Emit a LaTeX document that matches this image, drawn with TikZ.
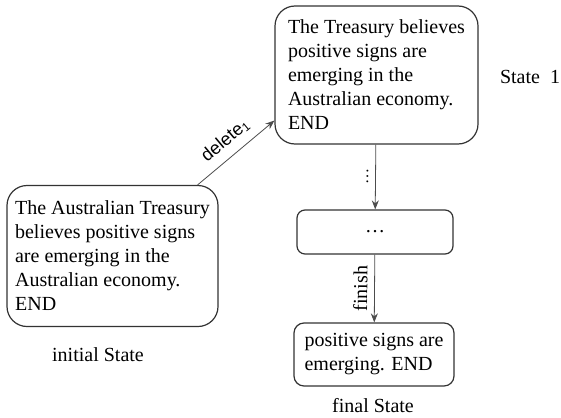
\documentclass[tikz,border=0pt]{standalone}
\usepackage{fontspec}
\setmainfont{Liberation Serif}
\newfontfamily\labelfont{Liberation Sans}
\usetikzlibrary{arrows.meta}
\begin{document}
\begin{tikzpicture}[x=0.5pt,y=-0.5pt,
  statebox/.style={draw=black!80,line width=0.6pt,rounded corners=10pt,align=left,inner sep=2pt},
  trans/.style={draw=black!70,line width=0.4pt,-{Stealth[length=4.5pt,width=3.5pt]}}]
\useasboundingbox (0,0) rectangle (561,417);
\node[statebox,minimum width=105.5pt,minimum height=70.5pt](init) at (112.5,256){The Australian Treasury\\believes positive signs\\are emerging in the\\Australian economy.\\END};
\node[statebox,minimum width=101.5pt,minimum height=69pt](state1) at (376.5,75){The Treasury believes\\positive signs are\\emerging in the\\Australian economy.\\END};
\node[statebox,rounded corners=4pt,minimum width=78pt,minimum height=22pt](mid) at (375,232){\dots};
\node[statebox,rounded corners=5pt,minimum width=80pt,minimum height=31.5pt](final) at (374,354.5){positive signs are\\emerging. END};
\node (initlabel) at (98,355) {initial State};
\node (state1label) at (530,77) {State~ 1};
\node (finallabel) at (373,406) {final State};
\draw[trans] ([xshift=-10.5pt]init.north east) -- ([yshift=12pt]state1.south west)
  node[midway,sloped,above=1pt,font=\labelfont\fontsize{9}{10}\selectfont]{delete\textsubscript{1}};
\draw[trans] (state1) -- (mid) node[midway,sloped,above,font=\fontsize{8}{9}\selectfont]{\dots};
\draw[trans] (mid) -- (final) node[midway,sloped,above]{finish};
\end{tikzpicture}
\end{document}
